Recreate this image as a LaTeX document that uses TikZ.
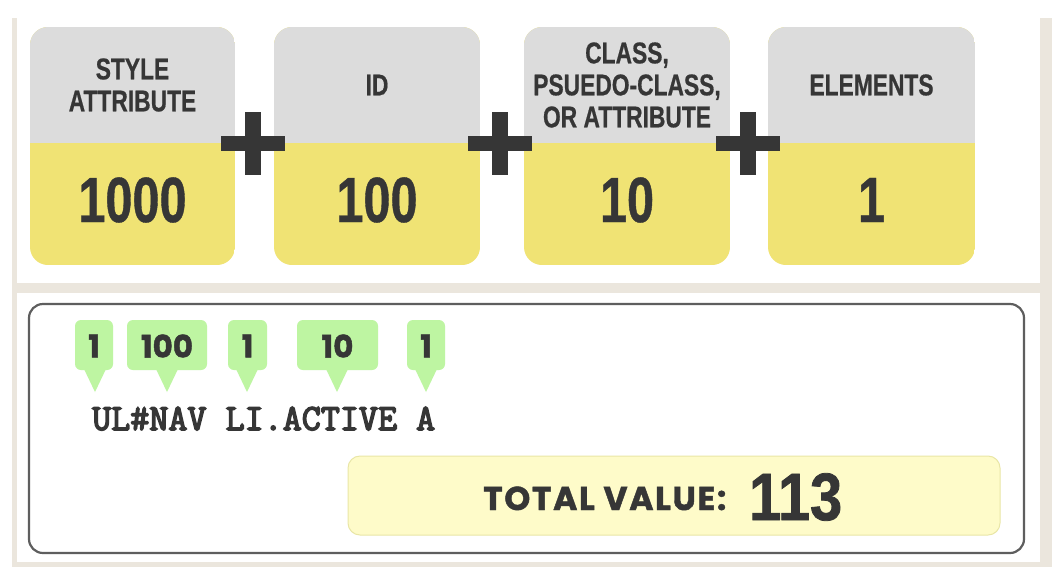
\documentclass[tikz,border=0pt]{standalone}
\usepackage{fontspec}
\setmainfont{Liberation Sans}
\newfontfamily\condf[FakeStretch=0.76,BoldFeatures={FakeBold=0.6}]{Liberation Sans}
\newfontfamily\numf[FakeStretch=0.86,BoldFeatures={FakeBold=1.2}]{Liberation Sans}
\newfontfamily\roundf[BoldFeatures={FakeBold=1.4}]{Poppins}
\newfontfamily\totf[LetterSpace=5,BoldFeatures={FakeBold=1.4}]{Poppins}
\newfontfamily\monof[FakeBold=4]{Latin Modern Mono}
\definecolor{beige}{HTML}{EBE6DD}
\definecolor{headgray}{HTML}{DCDCDC}
\definecolor{valyellow}{HTML}{F0E374}
\definecolor{ink}{HTML}{363636}
\definecolor{taggreen}{HTML}{BEF5A2}
\definecolor{totfill}{HTML}{FEFBC9}
\definecolor{totline}{HTML}{E9E6A6}
\definecolor{boxline}{HTML}{5E5E5E}
\tikzset{
  headtext/.style={font=\condf\bfseries\fontsize{30}{32}\selectfont, text=ink, align=center, inner sep=0pt},
  valtext/.style={font=\condf\bfseries\fontsize{64}{64}\selectfont, text=ink, inner sep=0pt},
  tagtext/.style={font=\roundf\bfseries\fontsize{31}{31}\selectfont, text=ink, inner sep=0pt},
  codetext/.style={font=\monof\fontsize{37}{37}\selectfont, text=ink, inner sep=0pt, anchor=base west},
  plusbar/.style={fill=ink},
}
\newcommand{\drawcard}[5]{% x1, x2, name, header, value
  \begin{scope}
    \clip[rounded corners=18pt] (#1,27) rectangle (#2,265);
    \fill[valyellow] (#1,27) rectangle (#2,265);
    \fill[headgray] (#1,27) rectangle (#2,143);
  \end{scope}
  \node[headtext] (#3h) at ({(#1+#2)/2},85) {#4};
  \node[valtext] (#3v) at ({(#1+#2)/2},200) {#5};
}
\newcommand{\drawplus}[2]{% cx, name
  \fill[plusbar] (#1-32,135.5) rectangle (#1+32,150.5);
  \fill[plusbar] (#1-8,112) rectangle (#1+8,175);
  \coordinate (#2) at (#1,143);
}
\newcommand{\drawtag}[5]{% x1, x2, apex x, name, text
  \fill[taggreen, rounded corners=6pt] (#1,320) rectangle (#2,370);
  \fill[taggreen] (#3-11,369) -- (#3,392) -- (#3+11,369) -- cycle;
  \node[tagtext] (#4) at ({(#1+#2)/2},346) {#5};
}
\begin{document}
\begin{tikzpicture}[x=1pt,y=-1pt]
  \useasboundingbox (0,0) rectangle (1056,576);
  \fill[white] (0,0) rectangle (1056,576);
  % frame
  \fill[beige] (12,18) rectangle (1052,567);
  \fill[white] (17,18) rectangle (1040,283);
  \fill[white] (17,293) rectangle (1040,562);
  % cards
  \drawcard{30}{235}{c1}{STYLE\\ATTRIBUTE}{1000}
  \drawcard{274}{480}{c2}{ID}{100}
  \drawcard{524}{730}{c3}{CLASS,\\PSUEDO-CLASS,\\OR ATTRIBUTE}{10}
  \drawcard{768}{975}{c4}{ELEMENTS}{1}
  \drawplus{253}{p1}
  \drawplus{500}{p2}
  \drawplus{748}{p3}
  % bottom panel
  \draw[boxline, line width=2.2pt, rounded corners=14pt] (29,304) rectangle (1024,553);
  \drawtag{75}{113}{95}{t1}{1}
  \drawtag{127}{207}{167}{t2}{100}
  \drawtag{228}{267}{247}{t3}{1}
  \drawtag{297}{378}{337}{t4}{10}
  \drawtag{407}{445}{426}{t5}{1}
  \node[codetext] (code) at (92,430) {UL\#NAV LI.ACTIVE A};
  \draw[totline, fill=totfill, line width=1pt, rounded corners=12pt] (348,456) rectangle (1000,535);
  \node[font=\totf\bfseries\fontsize{33}{33}\selectfont, text=ink, inner sep=0pt, anchor=base west] (totlabel) at (483,510) {TOTAL VALUE:};
  \node[font=\numf\bfseries\fontsize{67}{67}\selectfont, text=ink, inner sep=0pt, anchor=base west] (totval) at (749,520) {113};
\end{tikzpicture}
\end{document}
